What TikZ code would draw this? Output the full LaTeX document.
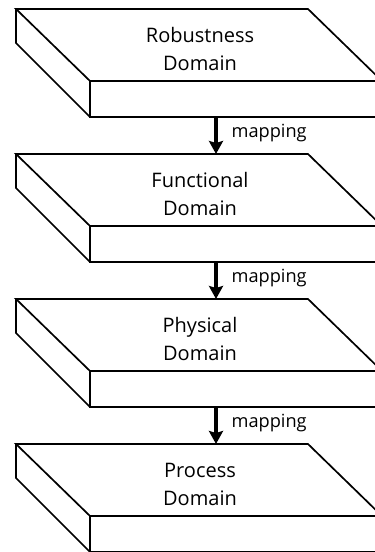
\documentclass[tikz,border=0pt]{standalone}
\usepackage{fontspec}
\setmainfont{Open Sans}
\usetikzlibrary{arrows.meta}
\tikzset{
  slabline/.style={line width=1.7pt, line join=miter},
  domaintext/.style={align=center, inner sep=0pt, font=\fontsize{20}{28}\selectfont},
  maplabel/.style={inner sep=0pt, font=\fontsize{18.2}{22}\selectfont},
  maparrow/.style={line width=3.2pt, -{Stealth[length=13pt,width=14pt,inset=2pt]}},
  pics/slab/.style={code={
    \draw[slabline, fill=white] (0,0) -- (292,0) -- (366,72) -- (74,72) -- cycle;
    \draw[slabline] (74,72) -- (74,108) -- (366,108);
    \draw[slabline] (0,0) -- (0,34) -- (74,108);
  }}
}
\begin{document}
\begin{tikzpicture}[x=1pt,y=-1pt]
\path[use as bounding box, clip] (0,0) rectangle (375,552);
\fill[white] (0,0) rectangle (375,552);
% slabs
\pic at (16,9) {slab};
\pic at (16,154) {slab};
\pic at (16,299) {slab};
\pic at (16,444) {slab};
% texts
\node[domaintext] (rob) at (200,49) {Robustness\\Domain};
\node[domaintext] (fun) at (200,194) {Functional\\Domain};
\node[domaintext] (phy) at (200,339) {Physical\\Domain};
\node[domaintext] (pro) at (200,484) {Process\\Domain};
% connection points
\coordinate (b1) at (216,117);
\coordinate (t2) at (216,154);
\coordinate (b2) at (216,262);
\coordinate (t3) at (216,299);
\coordinate (b3) at (216,407);
\coordinate (t4) at (216,444);
% arrows
\draw[maparrow] (b1) -- node[maplabel, anchor=base west, xshift=14pt, yshift=-2pt] {mapping} (t2);
\draw[maparrow] (b2) -- node[maplabel, anchor=base west, xshift=14pt, yshift=-2pt] {mapping} (t3);
\draw[maparrow] (b3) -- node[maplabel, anchor=base west, xshift=14pt, yshift=-2pt] {mapping} (t4);
\end{tikzpicture}
\end{document}
